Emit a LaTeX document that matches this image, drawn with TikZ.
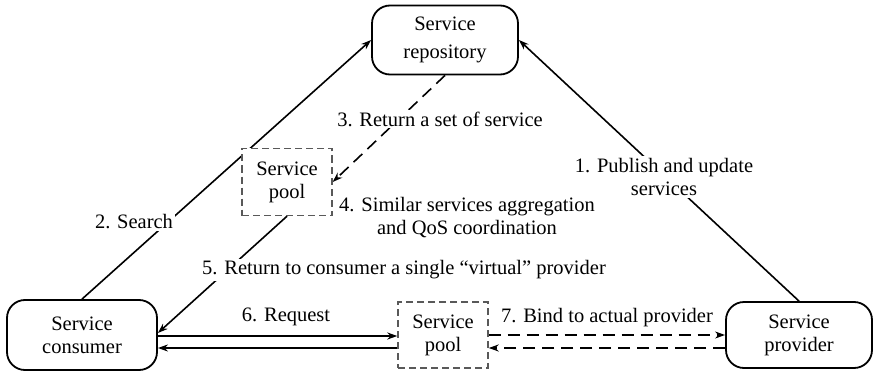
\documentclass[tikz,border=0pt]{standalone}
\usepackage{fontspec}
\setmainfont{Liberation Serif}
\usetikzlibrary{arrows.meta,backgrounds,calc}
\begin{document}
\begin{tikzpicture}[x=1pt,y=-1pt,
  font=\fontsize{20.5}{23}\selectfont,
  mainbox/.style={draw,line width=1.8pt,rounded corners=18pt,align=center,inner sep=0pt},
  poolbox/.style={draw=black!65,dash pattern=on 7pt off 4pt,line width=1.4pt,fill=white,align=center,inner sep=0pt,minimum width=90pt,minimum height=67pt},
  conn/.style={line width=1.6pt,-{Stealth[length=10pt,width=7pt]}},
  dconn/.style={conn,dash pattern=on 12pt off 7pt},
  lbl/.style={fill=white,inner sep=2pt,align=center}]
\useasboundingbox (0,0) rectangle (874,374);
% main boxes
\node[mainbox,minimum width=146pt,minimum height=69pt] (repo) at (445,40) {Service\\[5pt]repository};
\node[mainbox,minimum width=150pt,minimum height=70pt] (cons) at (82,335) {Service\\consumer};
\node[mainbox,minimum width=146pt,minimum height=66pt] (prov) at (799,335) {Service\\provider};
\node[poolbox] (pool1) at (287,182) {Service\\pool};
\node[poolbox,minimum height=66pt] (pool2) at (443,335) {Service\\pool};
% labels
\node[lbl] (l1) at (664,177) {1. Publish and update\\services};
\node[lbl] (l2) at (134,222) {2. Search};
\node[lbl] (l3) at (440,119) {3. Return a set of service};
\node[align=center] (l4) at (467,218) {4. Similar services aggregation\\and QoS coordination};
\node[lbl] (l5) at (404,270) {5. Return to consumer a single “virtual” provider};
\node (l6) at (286,317) {6. Request};
\node (l7) at (607,318) {7. Bind to actual provider};
% connectors
\begin{scope}[on background layer]
\draw[conn] (prov.north) -- (repo.east);
\draw[conn] (cons.north) -- (repo.west);
\draw[dconn] (repo.south) -- (pool1.east);
\draw[conn] (pool1.south) -- ([yshift=2pt]cons.east);
\draw[conn] ([yshift=-1pt]cons.east) -- ([yshift=-1pt]pool2.west);
\draw[conn] ([yshift=-13pt]pool2.west) -- ([yshift=-13pt]cons.east);
\draw[dconn] (pool2.east) -- (prov.west);
\draw[dconn] ([yshift=-13pt]prov.west) -- ([yshift=-13pt]pool2.east);
\end{scope}
\end{tikzpicture}
\end{document}
